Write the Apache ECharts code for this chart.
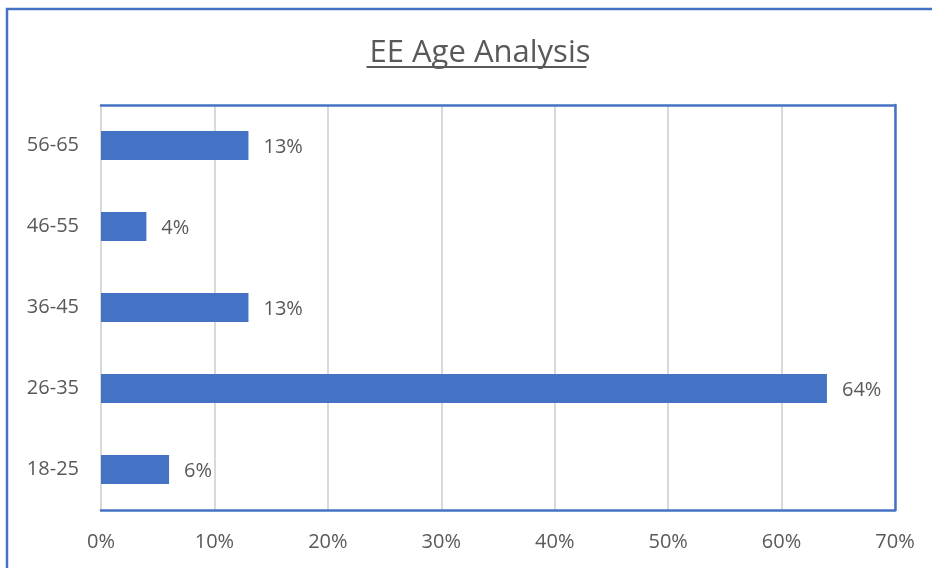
<!DOCTYPE html>
<html>
<head>
<meta charset="utf-8">
<script src="https://cdn.jsdelivr.net/npm/echarts@6/dist/echarts.min.js"></script>
<style>
html,body{margin:0;padding:0;background:#fff;}
#c{width:932px;height:568px;}
</style>
</head>
<body>
<div id="c"></div>
<script>
const categories = ['18-25', '26-35', '36-45', '46-55', '56-65'];
const values = [6, 64, 13, 4, 13];
const xTicks = [0, 10, 20, 30, 40, 50, 60, 70];
const titleText = 'EE Age Analysis';

const BLUE = '#4472C4';
const TXT = '#595959';
const FONT = 'Open Sans';
const TITLE_SIZE = 31;
const TITLE_CX = 475;

// measure title width so the underline matches the text
const mctx = document.createElement('canvas').getContext('2d');
mctx.font = TITLE_SIZE + 'px "' + FONT + '"';
const tw = mctx.measureText(titleText).width;

const chart = echarts.init(document.getElementById('c'));
chart.setOption({
  animation: false,
  backgroundColor: '#fff',
  title: {
    text: titleText,
    left: TITLE_CX,
    top: 33,
    textAlign: 'center',
    textStyle: { color: TXT, fontFamily: FONT, fontSize: TITLE_SIZE, fontWeight: 'normal' }
  },
  graphic: [
    { type: 'rect', silent: true, shape: { x: 7, y: 9, width: 1200, height: 1200 },
      style: { fill: 'none', stroke: BLUE, lineWidth: 2.5 } },
    { type: 'line', silent: true, shape: { x1: TITLE_CX - tw / 2 + 2, y1: 67, x2: TITLE_CX + tw / 2 + 1, y2: 67 },
      style: { stroke: TXT, lineWidth: 2 } }
  ],
  grid: { left: 101, right: 37, top: 105, bottom: 58, containLabel: false },
  xAxis: [{
    type: 'value',
    min: xTicks[0],
    max: xTicks[xTicks.length - 1],
    interval: 10,
    axisLine: { show: true, lineStyle: { color: BLUE, width: 2.5 } },
    axisTick: { show: false },
    splitLine: { show: true, lineStyle: { color: '#d9d9d9', width: 2 } },
    axisLabel: { color: TXT, fontFamily: FONT, fontSize: 20, margin: 22, formatter: v => v + '%' }
  }, {
    type: 'value',
    position: 'top',
    min: xTicks[0],
    max: xTicks[xTicks.length - 1],
    interval: 10,
    axisLine: { show: true, onZero: false, lineStyle: { color: BLUE, width: 2.5 } },
    axisTick: { show: false },
    splitLine: { show: false },
    axisLabel: { show: false }
  }],
  yAxis: [{
    type: 'category',
    data: categories,
    axisLine: { show: true, lineStyle: { color: '#d9d9d9', width: 2 } },
    axisTick: { show: false },
    splitLine: { show: false },
    axisLabel: { color: TXT, fontFamily: FONT, fontSize: 20, margin: 22, padding: [5, 0, 0, 0] }
  }, {
    type: 'category',
    position: 'right',
    data: categories,
    axisLine: { show: true, onZero: false, lineStyle: { color: BLUE, width: 2.5 } },
    axisTick: { show: false },
    axisLabel: { show: false }
  }],
  series: [{
    type: 'bar',
    data: values,
    xAxisIndex: 0,
    yAxisIndex: 0,
    barWidth: 29,
    itemStyle: { color: BLUE },
    label: {
      show: true,
      position: 'right',
      distance: 15,
      offset: [0, 2],
      color: TXT,
      fontFamily: FONT,
      fontSize: 20,
      formatter: p => p.value + '%'
    }
  }]
});
</script>
</body>
</html>
